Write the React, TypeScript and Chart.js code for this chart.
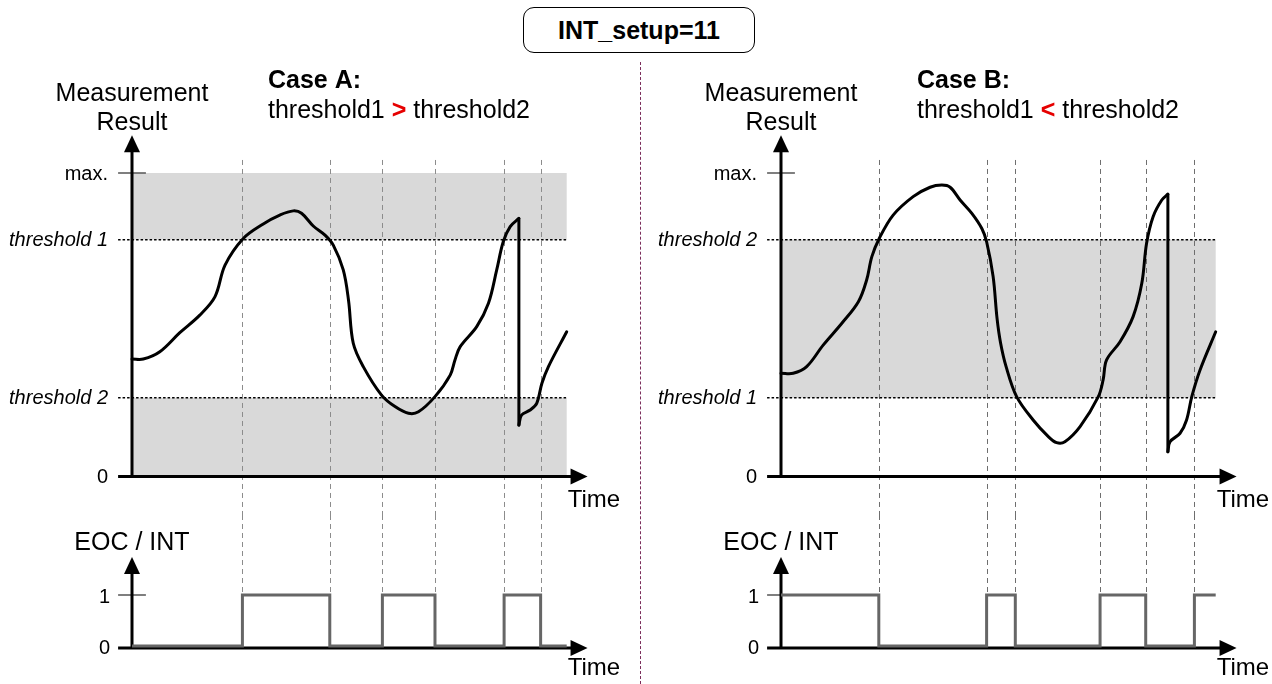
import React, { useEffect, useRef } from 'react';
import { Chart, registerables } from 'chart.js';

Chart.register(...registerables);

// ---------------- data ----------------
const timeEnd = 100;
const valueMax = 100;
const thresholdHigh = 78;
const thresholdLow = 25.8;

// Case A: threshold1 > threshold2
const caseACurve1Time = [0, 2.6, 6.4, 11.0, 15.6, 19.1, 21.4, 25.6, 30.2, 34.0, 37.1, 39.0, 41.7, 44.4, 46.3, 48.6, 49.8, 50.9, 53.2, 57.4, 60.5, 63.6, 65.9, 69.7, 73.2, 74.3, 75.5, 79.3, 82.0, 83.9, 85.4, 87.0, 89.0];
const caseACurve1Value = [38.6, 38.6, 41.0, 47.3, 53.1, 59.2, 69.6, 78.4, 83.2, 86.1, 87.5, 86.7, 82.5, 79.5, 76.2, 68.0, 58.1, 43.8, 36.1, 26.7, 22.9, 20.7, 21.2, 26.2, 33.3, 38.3, 42.7, 49.3, 57.0, 68.0, 77.3, 82.3, 85.0];
const caseACurve2Time = [89.0, 89.6, 91.6, 93.1, 94.3, 95.8, 100];
const caseACurve2Value = [16.8, 20.1, 21.8, 24.0, 30.6, 36.1, 47.6];
const caseATransitions = [25.4, 45.5, 57.6, 69.7, 85.6, 94.0];
const caseAStartLevel = 0;
const caseATickValues = [0, thresholdLow, thresholdHigh, valueMax];
const caseATickLabels = ['0', 'threshold 2', 'threshold 1', 'max.'];
const caseATickItalic = [false, true, true, false];
const caseABands = [[thresholdHigh, valueMax], [0, thresholdLow]];
const caseATitle = 'Case A:';
const caseARelation = ['threshold1 ', '>', ' threshold2'];

// Case B: threshold1 < threshold2
const caseBCurve1Time = [0, 2.8, 5.9, 9.7, 14.0, 17.8, 19.7, 20.9, 22.6, 25.8, 30.4, 34.3, 37.0, 38.9, 41.2, 43.9, 46.2, 47.3, 48.8, 49.7, 50.5, 51.8, 54.2, 58.0, 61.5, 63.4, 65.3, 68.8, 73.0, 74.1, 74.9, 78.0, 81.0, 83.0, 84.1, 85.6, 87.6, 89.0];
const caseBCurve1Value = [33.9, 33.9, 36.1, 43.2, 50.4, 57.5, 64.7, 72.4, 78.4, 86.1, 92.2, 95.3, 96.0, 95.3, 91.1, 86.7, 81.7, 77.3, 65.8, 52.0, 44.0, 36.0, 26.2, 18.5, 13.0, 11.0, 11.3, 16.3, 26.2, 31.7, 38.3, 44.3, 52.6, 63.6, 76.8, 85.6, 91.1, 93.0];
const caseBCurve2Time = [89.0, 89.5, 91.8, 93.3, 94.5, 96.4, 100];
const caseBCurve2Value = [8.0, 11.3, 14.1, 18.5, 26.2, 35.0, 47.6];
const caseBTransitions = [22.5, 47.3, 53.9, 73.4, 83.9, 95.1];
const caseBStartLevel = 1;
const caseBTickValues = [0, thresholdLow, thresholdHigh, valueMax];
const caseBTickLabels = ['0', 'threshold 1', 'threshold 2', 'max.'];
const caseBTickItalic = [false, true, true, false];
const caseBBands = [[thresholdLow, thresholdHigh]];
const caseBTitle = 'Case B:';
const caseBRelation = ['threshold1 ', '<', ' threshold2'];

const eocTickValues = [0, 1];
const eocTickLabels = ['0', '1'];

const titleText = 'INT_setup=11';
const yTitleTop = ['Measurement', 'Result'];
const yTitleBottom = 'EOC / INT';
const xTitle = 'Time';

// ---------------- layout / style ----------------
const FONT = '"Liberation Sans", Arial, Helvetica, sans-serif';
const PANEL_LEFT = [0, 649];
const PANEL_WIDTH = [636, 623];
const AXIS_X = 132;
const PLOT_W = 434.7;
const TOP_H = 515;
const TOP_PLOT_TOP = 173;
const TOP_PLOT_BOTTOM = 476;
const BOT_TOP = 515;
const BOT_H = 169;
const BOT_PLOT_TOP = 80;
const BOT_PLOT_BOTTOM = 131;

const T_AXIS_START = -3.2;
const T_ARROW = 104.8;
const V_ARROW = 112.5;
const DASH_TOP = 104.3;
const EOC_ARROW = 1.745;
const TICK_HALF = 3.2;

function arrowLine(ctx: CanvasRenderingContext2D, x1: number, y1: number, x2: number, y2: number) {
  const ang = Math.atan2(y2 - y1, x2 - x1);
  const head = 17;
  const half = 8;
  const bx = x2 - head * Math.cos(ang);
  const by = y2 - head * Math.sin(ang);
  ctx.strokeStyle = '#000';
  ctx.lineWidth = 3;
  ctx.setLineDash([]);
  ctx.beginPath();
  ctx.moveTo(x1, y1);
  ctx.lineTo(bx + 2 * Math.cos(ang), by + 2 * Math.sin(ang));
  ctx.stroke();
  ctx.fillStyle = '#000';
  ctx.beginPath();
  ctx.moveTo(x2, y2);
  ctx.lineTo(bx - half * Math.sin(ang), by + half * Math.cos(ang));
  ctx.lineTo(bx + half * Math.sin(ang), by - half * Math.cos(ang));
  ctx.closePath();
  ctx.fill();
}

function txt(ctx: CanvasRenderingContext2D, s: string, x: number, y: number, font: string, align: CanvasTextAlign, base: CanvasTextBaseline, color = '#000') {
  ctx.font = font;
  ctx.textAlign = align;
  ctx.textBaseline = base;
  ctx.fillStyle = color;
  ctx.fillText(s, x, y);
}

type TopCfg = {
  c1t: number[]; c1v: number[]; c2t: number[]; c2v: number[];
  transitions: number[]; tickValues: number[]; tickLabels: string[]; tickItalic: boolean[];
  bands: number[][]; title: string; relation: string[]; dashColor: string;
};

function makeTop(canvas: HTMLCanvasElement, width: number, cfg: TopCfg) {
  const pts = (t: number[], v: number[]) => t.map((x, i) => ({ x, y: v[i] }));
  const dropLine = [
    { x: cfg.c1t[cfg.c1t.length - 1], y: cfg.c1v[cfg.c1v.length - 1] },
    { x: cfg.c2t[0], y: cfg.c2v[0] },
  ];
  const plugin = {
    id: 'topDiagram',
    beforeDatasetsDraw(chart: any) {
      const ctx: CanvasRenderingContext2D = chart.ctx;
      const X = (v: number) => chart.scales.x.getPixelForValue(v);
      const Y = (v: number) => chart.scales.y.getPixelForValue(v);
      ctx.save();
      ctx.fillStyle = '#d9d9d9';
      cfg.bands.forEach(([lo, hi]) => ctx.fillRect(X(0), Y(hi), X(timeEnd) - X(0), Y(lo) - Y(hi)));
      ctx.strokeStyle = cfg.dashColor;
      ctx.lineWidth = 1;
      ctx.setLineDash([5, 4]);
      cfg.transitions.forEach((t) => {
        const x = Math.round(X(t)) + 0.5;
        ctx.beginPath();
        ctx.moveTo(x, Y(DASH_TOP));
        ctx.lineTo(x, chart.height);
        ctx.stroke();
      });
      ctx.strokeStyle = '#000';
      ctx.lineWidth = 1.5;
      ctx.setLineDash([2.5, 2]);
      cfg.tickValues.forEach((v) => {
        if (v === 0 || v === valueMax) return;
        ctx.beginPath();
        ctx.moveTo(X(T_AXIS_START), Y(v));
        ctx.lineTo(X(timeEnd), Y(v));
        ctx.stroke();
      });
      ctx.setLineDash([]);
      ctx.strokeStyle = '#555';
      ctx.lineWidth = 1.5;
      ctx.beginPath();
      ctx.moveTo(X(-TICK_HALF), Y(valueMax));
      ctx.lineTo(X(TICK_HALF), Y(valueMax));
      ctx.stroke();
      ctx.restore();
    },
    afterDatasetsDraw(chart: any) {
      const ctx: CanvasRenderingContext2D = chart.ctx;
      const X = (v: number) => chart.scales.x.getPixelForValue(v);
      const Y = (v: number) => chart.scales.y.getPixelForValue(v);
      ctx.save();
      arrowLine(ctx, X(0), Y(0) + 2, X(0), Y(V_ARROW));
      arrowLine(ctx, X(T_AXIS_START), Y(0) + 0.5, X(T_ARROW), Y(0) + 0.5);
      cfg.tickValues.forEach((v, i) => {
        const font = `${cfg.tickItalic[i] ? 'italic ' : ''}20px ${FONT}`;
        txt(ctx, cfg.tickLabels[i], X(0) - 24, Y(v) + 1, font, 'right', 'middle');
      });
      txt(ctx, yTitleTop[0], X(0), Y(valueMax) - 72, `25px ${FONT}`, 'center', 'alphabetic');
      txt(ctx, yTitleTop[1], X(0), Y(valueMax) - 43, `25px ${FONT}`, 'center', 'alphabetic');
      txt(ctx, xTitle, X(timeEnd) + 1, Y(0) + 24, `24px ${FONT}`, 'left', 'middle');
      const cx = X(0) + 136;
      txt(ctx, cfg.title, cx, Y(valueMax) - 85, `bold 25px ${FONT}`, 'left', 'alphabetic');
      let xx = cx;
      cfg.relation.forEach((part, i) => {
        const font = i === 1 ? `bold 25px ${FONT}` : `25px ${FONT}`;
        ctx.font = font;
        txt(ctx, part, xx, Y(valueMax) - 55, font, 'left', 'alphabetic', i === 1 ? '#e60000' : '#000');
        xx += ctx.measureText(part).width;
      });
      ctx.restore();
    },
  };
  const line = { borderColor: '#000', borderWidth: 3, pointRadius: 0, borderCapStyle: 'round', borderJoinStyle: 'round', clip: 8 };
  return new Chart(canvas, {
    type: 'line',
    data: {
      datasets: [
        { ...line, data: pts(cfg.c1t, cfg.c1v), tension: 0.35 } as any,
        { ...line, data: dropLine, tension: 0 } as any,
        { ...line, data: pts(cfg.c2t, cfg.c2v), tension: 0.35 } as any,
      ],
    },
    options: {
      responsive: false,
      maintainAspectRatio: false,
      animation: false,
      events: [],
      layout: { padding: { left: AXIS_X, right: width - AXIS_X - PLOT_W, top: TOP_PLOT_TOP, bottom: TOP_H - TOP_PLOT_BOTTOM } },
      plugins: { legend: { display: false }, tooltip: { enabled: false } },
      scales: {
        x: { type: 'linear', min: 0, max: timeEnd, display: false },
        y: { type: 'linear', min: 0, max: valueMax, display: false },
      },
    },
    plugins: [plugin],
  });
}

function makeBottom(canvas: HTMLCanvasElement, width: number, transitions: number[], startLevel: number, dashColor: string) {
  const steps = [{ x: 0, y: startLevel }];
  let lvl = startLevel;
  transitions.forEach((t) => {
    lvl = 1 - lvl;
    steps.push({ x: t, y: lvl });
  });
  steps.push({ x: timeEnd, y: lvl });
  const plugin = {
    id: 'bottomDiagram',
    beforeDatasetsDraw(chart: any) {
      const ctx: CanvasRenderingContext2D = chart.ctx;
      const X = (v: number) => chart.scales.x.getPixelForValue(v);
      const Y = (v: number) => chart.scales.y.getPixelForValue(v);
      ctx.save();
      ctx.strokeStyle = dashColor;
      ctx.lineWidth = 1;
      ctx.setLineDash([5, 4]);
      transitions.forEach((t) => {
        const x = Math.round(X(t)) + 0.5;
        ctx.beginPath();
        ctx.moveTo(x, 0);
        ctx.lineTo(x, Y(1));
        ctx.stroke();
      });
      ctx.setLineDash([]);
      ctx.strokeStyle = '#555';
      ctx.lineWidth = 1.5;
      ctx.beginPath();
      ctx.moveTo(X(-TICK_HALF), Y(1));
      ctx.lineTo(X(TICK_HALF), Y(1));
      ctx.stroke();
      arrowLine(ctx, X(0), Y(0) + 3, X(0), Y(EOC_ARROW));
      arrowLine(ctx, X(T_AXIS_START), Y(0) + 2, X(T_ARROW), Y(0) + 2);
      eocTickValues.forEach((v, i) => {
        txt(ctx, eocTickLabels[i], X(0) - 22, Y(v) + 2, `20px ${FONT}`, 'right', 'middle');
      });
      txt(ctx, yTitleBottom, X(0), Y(1) - 45, `25px ${FONT}`, 'center', 'alphabetic');
      txt(ctx, xTitle, X(timeEnd) + 1, Y(0) + 22, `24px ${FONT}`, 'left', 'middle');
      ctx.restore();
    },
  };
  return new Chart(canvas, {
    type: 'line',
    data: {
      datasets: [
        { data: steps, stepped: 'before', borderColor: '#666', borderWidth: 3, pointRadius: 0, borderJoinStyle: 'miter', clip: 8 } as any,
      ],
    },
    options: {
      responsive: false,
      maintainAspectRatio: false,
      animation: false,
      events: [],
      layout: { padding: { left: AXIS_X, right: width - AXIS_X - PLOT_W, top: BOT_PLOT_TOP, bottom: BOT_H - BOT_PLOT_BOTTOM } },
      plugins: { legend: { display: false }, tooltip: { enabled: false } },
      scales: {
        x: { type: 'linear', min: 0, max: timeEnd, display: false },
        y: { type: 'linear', min: 0, max: 1, display: false },
      },
    },
    plugins: [plugin],
  });
}

export default function App() {
  const aTop = useRef<HTMLCanvasElement>(null);
  const aBot = useRef<HTMLCanvasElement>(null);
  const bTop = useRef<HTMLCanvasElement>(null);
  const bBot = useRef<HTMLCanvasElement>(null);

  useEffect(() => {
    document.body.style.margin = '0';
    const charts = [
      makeTop(aTop.current!, PANEL_WIDTH[0], {
        c1t: caseACurve1Time, c1v: caseACurve1Value, c2t: caseACurve2Time, c2v: caseACurve2Value,
        transitions: caseATransitions, tickValues: caseATickValues, tickLabels: caseATickLabels, tickItalic: caseATickItalic,
        bands: caseABands, title: caseATitle, relation: caseARelation, dashColor: '#8c8c8c',
      }),
      makeBottom(aBot.current!, PANEL_WIDTH[0], caseATransitions, caseAStartLevel, '#8c8c8c'),
      makeTop(bTop.current!, PANEL_WIDTH[1], {
        c1t: caseBCurve1Time, c1v: caseBCurve1Value, c2t: caseBCurve2Time, c2v: caseBCurve2Value,
        transitions: caseBTransitions, tickValues: caseBTickValues, tickLabels: caseBTickLabels, tickItalic: caseBTickItalic,
        bands: caseBBands, title: caseBTitle, relation: caseBRelation, dashColor: '#6e6e6e',
      }),
      makeBottom(bBot.current!, PANEL_WIDTH[1], caseBTransitions, caseBStartLevel, '#6e6e6e'),
    ];
    return () => charts.forEach((c) => c.destroy());
  }, []);

  const abs = (left: number, top: number, w: number, h: number): React.CSSProperties => ({
    position: 'absolute', left, top, width: w, height: h, display: 'block',
  });

  return (
    <div style={{ position: 'absolute', left: 0, top: 0, width: 1272, height: 684, overflow: 'hidden', background: '#fff' }}>
      <canvas ref={aTop} width={PANEL_WIDTH[0]} height={TOP_H} style={abs(PANEL_LEFT[0], 0, PANEL_WIDTH[0], TOP_H)} />
      <canvas ref={aBot} width={PANEL_WIDTH[0]} height={BOT_H} style={abs(PANEL_LEFT[0], BOT_TOP, PANEL_WIDTH[0], BOT_H)} />
      <canvas ref={bTop} width={PANEL_WIDTH[1]} height={TOP_H} style={abs(PANEL_LEFT[1], 0, PANEL_WIDTH[1], TOP_H)} />
      <canvas ref={bBot} width={PANEL_WIDTH[1]} height={BOT_H} style={abs(PANEL_LEFT[1], BOT_TOP, PANEL_WIDTH[1], BOT_H)} />
      <div style={{ position: 'absolute', left: 640, top: 62, height: 622, width: 0, borderLeft: '1px dashed #7b2d5b' }} />
      <div
        style={{
          position: 'absolute', left: 523, top: 7, width: 232, height: 46, boxSizing: 'border-box',
          border: '1.5px solid #000', borderRadius: 11, display: 'flex', alignItems: 'center', justifyContent: 'center',
          font: `bold 25px ${FONT}`, color: '#000', background: '#fff',
        }}
      >
        {titleText}
      </div>
    </div>
  );
}
